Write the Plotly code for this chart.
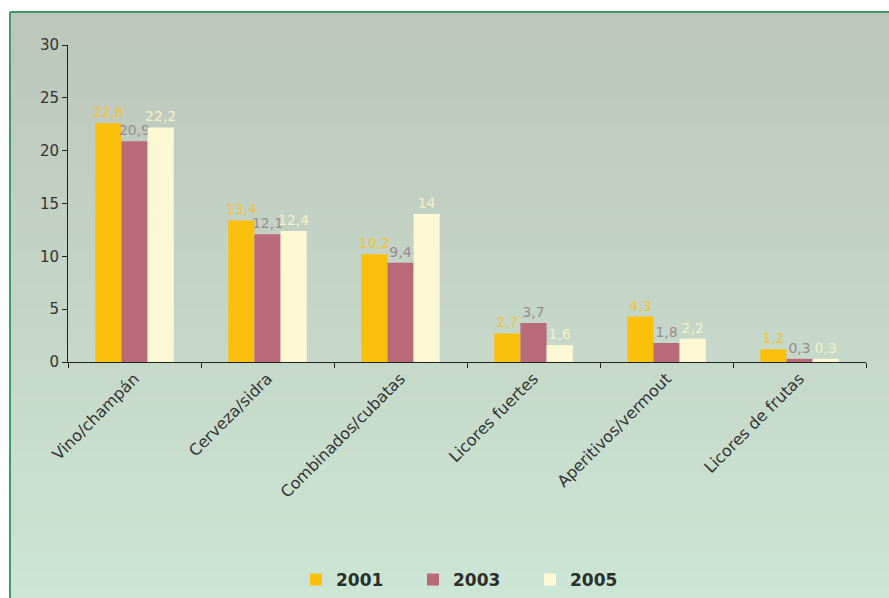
import plotly.graph_objects as go

categories = ["Vino/champán", "Cerveza/sidra", "Combinados/cubatas",
              "Licores fuertes", "Aperitivos/vermout", "Licores de frutas"]
years = ["2001", "2003", "2005"]
v2001 = [22.6, 13.4, 10.2, 2.7, 4.3, 1.2]
v2003 = [20.9, 12.1, 9.4, 3.7, 1.8, 0.3]
v2005 = [22.2, 12.4, 14, 1.6, 2.2, 0.3]

bar_colors = ["#fbc00c", "#b86a78", "#fdf8d4"]
label_colors = ["#f0c23a", "#9c8a90", "#f3f1c6"]

W, H = 889, 598
L, R, T, B = 68, 866, 45, 362


def px_x(p):
    return (p - L) / (R - L)


def px_y(p):
    return (B - p) / (B - T)


def fmt(v):
    s = ("%g" % v)
    return s.replace(".", ",")


fig = go.Figure()
for name, vals, c, lc in zip(years, [v2001, v2003, v2005], bar_colors, label_colors):
    fig.add_trace(go.Bar(
        x=categories, y=vals, name=name,
        marker=dict(color=c, line=dict(width=0)),
        text=[fmt(v) for v in vals], textposition="outside",
        textfont=dict(color=lc, size=14, family="DejaVu Sans"),
        constraintext="none",
        cliponaxis=False,
    ))

# vertical gradient background with green frame
shapes = []
n = 80
top_rgb = (188, 198, 186)
bot_rgb = (204, 229, 212)
y0, y1 = 12, H + 2
for i in range(n):
    t = i / (n - 1)
    r = round(top_rgb[0] + (bot_rgb[0] - top_rgb[0]) * t)
    g = round(top_rgb[1] + (bot_rgb[1] - top_rgb[1]) * t)
    b = round(top_rgb[2] + (bot_rgb[2] - top_rgb[2]) * t)
    ya = y0 + (y1 - y0) * i / n
    yb = y0 + (y1 - y0) * (i + 1) / n + 1
    shapes.append(dict(type="rect", xref="paper", yref="paper", layer="below",
                       x0=px_x(10), x1=px_x(W + 2), y0=px_y(ya), y1=px_y(yb),
                       fillcolor=f"rgb({r},{g},{b})", line=dict(width=0)))
shapes.append(dict(type="line", xref="paper", yref="paper", layer="below",
                   x0=px_x(10), x1=px_x(W + 2), y0=px_y(12), y1=px_y(12),
                   line=dict(color="#3f9a6c", width=2)))
shapes.append(dict(type="line", xref="paper", yref="paper", layer="below",
                   x0=px_x(10), x1=px_x(10), y0=px_y(12), y1=px_y(H + 2),
                   line=dict(color="#3f9a6c", width=2)))

fig.update_layout(
    width=W, height=H,
    margin=dict(l=L, r=W - R, t=T, b=H - B, autoexpand=False),
    paper_bgcolor="white", plot_bgcolor="rgba(0,0,0,0)",
    barmode="group", bargap=0.41, bargroupgap=0,
    shapes=shapes,
    font=dict(family="DejaVu Sans", color="#333333"),
    showlegend=True,
    legend=dict(orientation="h", x=px_x(296), xanchor="left", y=px_y(580), yanchor="middle",
                font=dict(size=17, color="#2b2f2b", family="DejaVu Sans", weight="bold"),
                bgcolor="rgba(0,0,0,0)", itemwidth=30, traceorder="normal",
                entrywidth=72, entrywidthmode="pixels"),
    xaxis=dict(showline=True, linecolor="#222222", linewidth=1, ticks="outside",
               tickson="boundaries", ticklen=5, tickcolor="#222222",
               tickangle=-45, tickfont=dict(size=16, color="#333333"),
               showgrid=False, zeroline=False, automargin=False),
    yaxis=dict(range=[0, 30], dtick=5, showline=True, linecolor="#222222", linewidth=1,
               ticks="outside", ticklen=5, tickcolor="#222222",
               tickfont=dict(size=15, color="#333333"), showgrid=False, zeroline=False,
               automargin=False),
)

fig.write_html("out.html")
